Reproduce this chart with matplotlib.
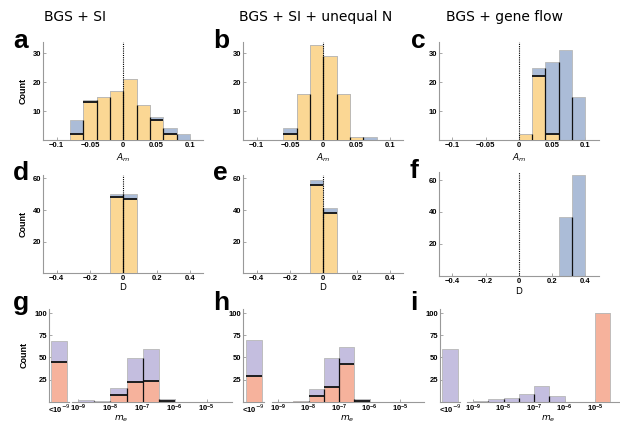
import numpy as np
import matplotlib
matplotlib.use('Agg')
import matplotlib.pyplot as plt

# bin edges
am_edges = [-0.1, -0.08, -0.06, -0.04, -0.02, 0.0, 0.02, 0.04, 0.06, 0.08, 0.1]
d_edges = [-0.4, -0.32, -0.24, -0.16, -0.08, 0.0, 0.08, 0.16, 0.24, 0.32, 0.4]
me_log_edges = [-9, -8.5, -8, -7.5, -7, -6.5, -6, -5.5, -5, -4.5]

# row 1: A_m counts (blue = all, orange = subset)
a_blue = [0, 7, 14, 15, 17, 21, 12, 8, 4, 2]
a_orange = [0, 2, 13, 15, 17, 21, 12, 7, 2, 0]
b_blue = [0, 0, 4, 16, 33, 29, 16, 1, 1, 0]
b_orange = [0, 0, 2, 16, 33, 29, 16, 1, 0, 0]
c_blue = [0, 0, 0, 0, 0, 2, 25, 27, 31, 15]
c_orange = [0, 0, 0, 0, 0, 2, 22, 2, 0, 0]

# row 2: D counts
d_blue = [0, 0, 0, 0, 50, 50, 0, 0, 0, 0]
d_orange = [0, 0, 0, 0, 48, 47, 0, 0, 0, 0]
e_blue = [0, 0, 0, 0, 59, 41, 0, 0, 0, 0]
e_orange = [0, 0, 0, 0, 56, 38, 0, 0, 0, 0]
f_blue = [0, 0, 0, 0, 0, 0, 0, 0, 37, 63]
f_orange = [0, 0, 0, 0, 0, 0, 0, 0, 0, 0]

# row 3: m_e counts (stacked: salmon below, purple above); first value = "<10^-9" bin
g_low = (45, 24)
g_salmon = [0, 0, 8, 22, 23, 1, 0, 0, 0]
g_purple = [2, 1, 8, 27, 36, 2, 0, 0, 0]
h_low = (29, 41)
h_salmon = [0, 1, 6, 17, 43, 1, 0, 0, 0]
h_purple = [0, 0, 8, 32, 19, 2, 0, 0, 0]
i_low = (0, 59)
i_salmon = [0, 0, 0, 0, 0, 0, 0, 0, 100]
i_purple = [1, 3, 4, 9, 18, 6, 0, 0, 0]

titles = ['BGS + SI', 'BGS + SI + unequal N', 'BGS + gene flow']

BLUE = '#abbcd7'
ORANGE = '#fbd794'
PURPLE = '#c4bedf'
SALMON = '#f6b29c'
EDGE = '#b8b8b8'
AXC = '#999999'
TICKFONT = dict(family='Liberation Sans', weight='bold', size=5.5)

W, H = 620, 426
fig = plt.figure(figsize=(6.2, 4.26), dpi=100)


def add_ax(x0, x1, ytop, ybot):
    return fig.add_axes([x0 / W, 1 - ybot / H, (x1 - x0) / W, (ybot - ytop) / H])


def style(ax, left=True):
    for s in ['top', 'right']:
        ax.spines[s].set_visible(False)
    ax.spines['left'].set_visible(left)
    for s in ['left', 'bottom']:
        ax.spines[s].set_color(AXC)
        ax.spines[s].set_linewidth(0.8)
    ax.tick_params(direction='in', length=2, width=0.6, color=AXC, pad=1.5)
    for lab in ax.get_xticklabels() + ax.get_yticklabels():
        lab.set_fontproperties(TICKFONT)


def black_lines(ax, edges, lower, top):
    for k in range(len(lower)):
        if lower[k] > 0 and top[k] > lower[k]:
            ax.hlines(lower[k], edges[k], edges[k + 1], color='#111111', lw=1.3, zorder=4)
    for j in range(1, len(top)):
        h = min(top[j - 1], top[j])
        if h > 0:
            ax.vlines(edges[j], 0, h, color='#111111', lw=0.9, zorder=4)


def overlay(ax, edges, blue, orange):
    left = edges[:-1]
    widths = np.diff(edges)
    ax.bar(left, blue, width=widths, align='edge', color=BLUE, edgecolor=EDGE, lw=0.6, zorder=2)
    ax.bar(left, orange, width=widths, align='edge', color=ORANGE, edgecolor=EDGE, lw=0.6, zorder=3)
    top = np.maximum(blue, orange)
    black_lines(ax, edges, orange, top)
    ax.axvline(0, color='k', ls=(0, (1, 1)), lw=0.8, zorder=5)


# columns: x-extent of rows 1-2 axes
cols12 = [(43.3, 203.3), (243.3, 403.3), (439.0, 598.5)]

# row 1
for k, (blue, orange) in enumerate([(a_blue, a_orange), (b_blue, b_orange), (c_blue, c_orange)]):
    ax = add_ax(cols12[k][0], cols12[k][1], 41.7, 140)
    overlay(ax, am_edges, blue, orange)
    ax.set_xlim(-0.12, 0.12)
    ax.set_ylim(0, 34)
    ax.set_xticks([-0.1, -0.05, 0, 0.05, 0.1])
    ax.set_xticklabels(['\u22120.1', '\u22120.05', '0', '0.05', '0.1'])
    ax.set_yticks([10, 20, 30])
    style(ax)
    if k == 0:
        ax.set_ylabel('Count', fontdict=dict(family='Liberation Sans', weight='bold', size=6.5), labelpad=4)

# row 2
for k, (blue, orange) in enumerate([(d_blue, d_orange), (e_blue, e_orange), (f_blue, f_orange)]):
    if k < 2:
        ax = add_ax(cols12[k][0], cols12[k][1], 175.2, 273.3)
        ax.set_ylim(0, 62)
    else:
        ax = add_ax(cols12[k][0], cols12[k][1], 172.0, 276.0)
        ax.set_ylim(0, 65)
    overlay(ax, d_edges, blue, orange)
    ax.set_xlim(-0.48, 0.48)
    ax.set_xticks([-0.4, -0.2, 0, 0.2, 0.4])
    ax.set_xticklabels(['\u22120.4', '\u22120.2', '0', '0.2', '0.4'])
    ax.set_yticks([20, 40, 60])
    style(ax)
    if k == 0:
        ax.set_ylabel('Count', fontdict=dict(family='Liberation Sans', weight='bold', size=6.5), labelpad=4)

# row 3
left_cols = [(49, 69), (243.3, 264), (440, 460)]
right_cols = [(72, 232.4), (272.2, 424.3), (467.2, 619.3)]
me_edges = [10.0 ** e for e in me_log_edges]
for k, (low, sal, pur) in enumerate([(g_low, g_salmon, g_purple), (h_low, h_salmon, h_purple),
                                     (i_low, i_salmon, i_purple)]):
    axl = add_ax(left_cols[k][0], left_cols[k][1], 308.6, 401.7)
    axl.bar([0.12], [low[0]], width=0.76, align='edge', color=SALMON, edgecolor=EDGE, lw=0.6, zorder=3)
    axl.bar([0.12], [low[1]], bottom=[low[0]], width=0.76, align='edge', color=PURPLE,
            edgecolor=EDGE, lw=0.6, zorder=2)
    if low[0] > 0 and low[1] > 0:
        axl.hlines(low[0], 0.12, 0.88, color='#111111', lw=1.3, zorder=4)
    axl.set_xlim(0, 1)
    axl.set_ylim(0, 105)
    axl.set_xticks([0.5])
    axl.set_xticklabels(['<10$^{-9}$'])
    axl.set_yticks([25, 50, 75, 100])
    style(axl)
    axl.tick_params(axis='x', pad=0.5)
    if k == 0:
        axl.set_ylabel('Count', fontdict=dict(family='Liberation Sans', weight='bold', size=6.5), labelpad=4)

    axr = add_ax(right_cols[k][0], right_cols[k][1], 308.6, 401.7)
    axr.set_xscale('log')
    left = me_edges[:-1]
    widths = np.diff(me_edges)
    axr.bar(left, sal, width=widths, align='edge', color=SALMON, edgecolor=EDGE, lw=0.6, zorder=3)
    axr.bar(left, pur, bottom=sal, width=widths, align='edge', color=PURPLE, edgecolor=EDGE,
            lw=0.6, zorder=2)
    top = np.array(sal) + np.array(pur)
    black_lines(axr, me_edges, sal, top)
    axr.set_xlim(10 ** -9.2, 10 ** -4.2)
    axr.set_ylim(0, 105)
    axr.set_xticks([1e-9, 1e-8, 1e-7, 1e-6, 1e-5])
    axr.set_yticks([])
    style(axr, left=False)
    axr.tick_params(axis='x', pad=0.5)
    axr.tick_params(axis='x', which='minor', direction='in', length=1.2, width=0.4, color=AXC)

# axis labels as free text
lab = dict(family='DejaVu Sans', size=6.5, ha='center', va='center')
for x in [123, 323, 519]:
    fig.text(x / W, 1 - 158 / H, '$A_m$', **lab)
for x, y in [(123, 287), (323, 287), (519, 291)]:
    fig.text(x / W, 1 - y / H, 'D', **lab)
for x in [121, 347, 548]:
    fig.text(x / W, 1 - 419 / H, '$m_e$', **lab)

# column titles
for x, t in zip([75, 316, 504], titles):
    fig.text(x / W, 1 - 17 / H, t, ha='center', va='center', family='DejaVu Sans', size=10)

# panel letters
letters = [('a', 13, 48), ('b', 213, 48), ('c', 411, 48),
           ('d', 13, 180), ('e', 213, 180), ('f', 410, 178),
           ('g', 13, 310), ('h', 213, 310), ('i', 410, 310)]
for t, x, y in letters:
    fig.text(x / W, 1 - y / H, t, ha='left', va='baseline', family='Liberation Sans',
             weight='bold', size=19)

fig.savefig('out.png', dpi=100)
